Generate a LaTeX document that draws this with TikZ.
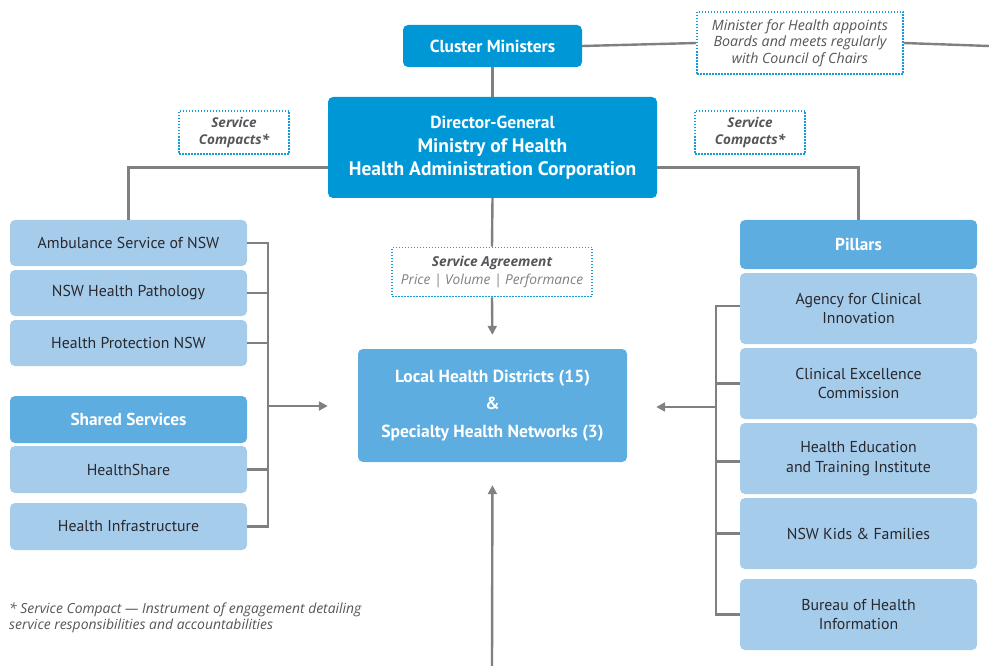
\documentclass[tikz,border=0pt]{standalone}
\usepackage{fontspec}
\setmainfont{PT Sans}
\newfontfamily\itfont[Ligatures=TeX]{Open Sans}
\usetikzlibrary{arrows.meta}
\definecolor{dblue}{RGB}{0,151,215}
\definecolor{mblue}{RGB}{93,173,224}
\definecolor{lblue}{RGB}{166,204,236}
\definecolor{dotblue}{RGB}{26,154,215}
\definecolor{lgray}{RGB}{128,128,128}
\definecolor{txtdark}{RGB}{40,40,45}
\definecolor{txtgray}{RGB}{85,85,90}
\tikzset{
  box/.style={rectangle, rounded corners=5pt, inner sep=0pt, align=center},
  darkbox/.style={box, fill=dblue, text=white, font=\bfseries\fontsize{17.4}{22}\selectfont},
  midbox/.style={box, fill=mblue, text=white, font=\bfseries\fontsize{17.3}{20}\selectfont},
  lightbox/.style={box, fill=lblue, text=txtdark, font=\fontsize{15.8}{19.5}\selectfont, minimum width=237pt},
  dotbox/.style={rectangle, draw=dotblue, line width=1.6pt, dash pattern=on 1.5pt off 1.5pt, inner sep=0pt, align=center, text=txtgray, font=\itfont\itshape\fontsize{14.2}{16.5}\selectfont},
  conn/.style={draw=lgray, line width=2.4pt},
  arr/.style={conn, -{Triangle[length=9pt,width=9pt]}},
}
\begin{document}
\begin{tikzpicture}[x=1pt,y=-1pt]
\useasboundingbox (0,0) rectangle (989,666);
% top
\node[darkbox, minimum width=179pt, minimum height=42pt] (cluster) at (492.5,46) {Cluster Ministers};
\node[dotbox, minimum width=206pt, minimum height=62pt] (mh) at (800,43) {Minister for Health appoints\\Boards and meets regularly\\with Council of Chairs};
\coordinate (redge) at (989,46);
\node[darkbox, minimum width=329pt, minimum height=101pt, font=\bfseries\fontsize{19.5}{24}\selectfont] (dg) at (492.5,147.5) {{\fontsize{17.5}{24}\selectfont Director-General}\\Ministry of Health\\[-1pt]Health Administration Corporation};
\node[dotbox, minimum width=110pt, minimum height=43pt, font=\itfont\bfseries\itshape\fontsize{13.5}{16.5}\selectfont] (scl) at (234,132.5) {Service\\Compacts*};
\node[dotbox, minimum width=110pt, minimum height=43pt, font=\itfont\bfseries\itshape\fontsize{13.5}{16.5}\selectfont] (scr) at (750,132.5) {Service\\Compacts*};
% left column
\node[lightbox, minimum height=46pt] (amb) at (128.5,243) {Ambulance Service of NSW};
\node[lightbox, minimum height=46pt] (path) at (128.5,293) {NSW Health Pathology};
\node[lightbox, minimum height=46pt] (prot) at (128.5,343) {Health Protection NSW};
\node[midbox, minimum width=237pt, minimum height=47pt] (shared) at (128.5,419.5) {Shared Services};
\node[lightbox, minimum height=47pt] (hshare) at (128.5,469.5) {HealthShare};
\node[lightbox, minimum height=47pt] (infra) at (128.5,526.5) {Health Infrastructure};
% centre
\node[dotbox, minimum width=200pt, minimum height=49pt, font=\itfont\itshape\fontsize{13.7}{18}\selectfont] (sa) at (492,272) {{\bfseries Service Agreement}\\{\color{lgray}Price | Volume | Performance}};
\node[midbox, minimum width=269pt, minimum height=113pt, font=\bfseries\fontsize{17.5}{27.5}\selectfont] (lhd) at (492.5,405.5) {Local Health Districts (15)\\\&\\Specialty Health Networks (3)};
% right column
\node[midbox, minimum width=237pt, minimum height=49pt] (pillars) at (858.5,244.5) {Pillars};
\node[lightbox, minimum height=71pt] (aci) at (858.5,308.5) {Agency for Clinical\\Innovation};
\node[lightbox, minimum height=71pt] (cec) at (858.5,383.5) {Clinical Excellence\\Commission};
\node[lightbox, minimum height=71pt] (heti) at (858.5,458.5) {Health Education\\and Training Institute};
\node[lightbox, minimum height=71pt] (kids) at (858.5,533.5) {NSW Kids \& Families};
\node[lightbox, minimum height=71pt] (bhi) at (858.5,614.5) {Bureau of Health\\Information};
% footnote
\node[anchor=north west, inner sep=0pt, align=left, text=txtgray, font=\itfont\itshape\fontsize{13.9}{16}\selectfont] (fn) at (9,603) {* Service Compact — Instrument of engagement detailing\\service responsibilities and accountabilities};
% connectors
\draw[conn] (cluster.east) -- (mh.west);
\draw[conn] (mh.east) -- (redge);
\draw[conn] (cluster.south) -- (dg.north);
\draw[conn] ([yshift=-20pt]dg.west) -| (amb.north);
\draw[conn] ([yshift=-20pt]dg.east) -| (pillars.north);
\draw[conn] (dg.south) -- (sa.north);
\draw[arr, shorten >=14pt] (sa.south) -- (lhd.north);
% left bus
\coordinate (lbt) at (268,243);
\coordinate (lbb) at (268,526.5);
\coordinate (lbm) at (268,406);
\draw[conn] (amb.east) -- (lbt) -- (lbb) -- (infra.east);
\draw[conn] (path.east) -- (path.east -| lbt);
\draw[conn] (prot.east) -- (prot.east -| lbt);
\draw[conn] (hshare.east) -- (hshare.east -| lbt);
\draw[arr, shorten >=30pt] (lbm) -- (lbm -| lhd.west);
% right bus
\coordinate (rbt) at (716,306);
\coordinate (rbb) at (716,614.5);
\coordinate (rbm) at (716,407);
\draw[conn] (aci.west |- rbt) -- (rbt) -- (rbb) -- (bhi.west);
\draw[conn] (cec.west) -- (cec.west -| rbt);
\draw[conn] ([yshift=-3pt]heti.west) -- ([yshift=-3pt]heti.west -| rbt);
\draw[conn] (kids.west) -- (kids.west -| rbt);
\draw[arr, shorten >=29pt] (rbm) -- (rbm -| lhd.east);
% bottom arrow
\coordinate (bot) at (492,666);
\draw[arr, shorten >=23pt] (bot) -- (lhd.south);
\end{tikzpicture}
\end{document}
